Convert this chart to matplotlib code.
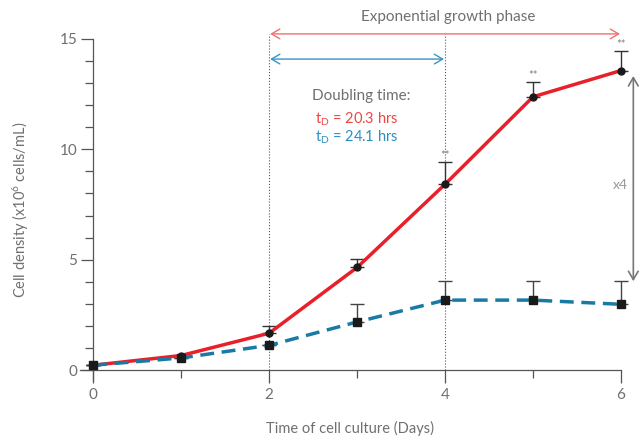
import matplotlib
matplotlib.use('Agg')
import matplotlib.pyplot as plt
from matplotlib.ticker import MultipleLocator, FixedLocator

plt.rcParams['font.family'] = ['Lato', 'DejaVu Sans']
plt.rcParams['mathtext.default'] = 'regular'

# data
days = [0, 1, 2, 3, 4, 5, 6]
red_mean = [0.22, 0.66, 1.67, 4.65, 8.42, 12.38, 13.57]
red_err = [0, 0, 0.32, 0.37, 1.0, 0.68, 0.9]
blue_mean = [0.22, 0.55, 1.12, 2.18, 3.17, 3.17, 2.98]
blue_err = [0, 0, 0, 0.83, 0.88, 0.88, 1.07]
sig_days = [4, 5, 6]

red = '#e8202a'
blue = '#1a7aa6'
grey = '#707070'

fig = plt.figure(figsize=(6.44, 4.41), dpi=100)
ax = fig.add_axes([0.1242, 0.1383, 0.8401, 0.7733])

# error bars (upper only)
for mean, err, c in [(red_mean, red_err, '#333333'), (blue_mean, blue_err, '#444444')]:
    eb = ax.errorbar(days, mean, yerr=[[0]*7, err], fmt='none', ecolor=c,
                     elinewidth=1, capsize=5, capthick=1, zorder=2)
    for a in list(eb.lines[1]) + list(eb.lines[2]):
        a.set_clip_on(False)

ax.plot(days, red_mean, color=red, lw=2.5, marker='o', ms=5, mfc='#1a1a1a',
        mec='#1a1a1a', zorder=3, clip_on=False)
ax.plot(days, blue_mean, color=blue, lw=2.5, ls=(0, (4, 2.2)), marker='s', ms=5.5,
        mfc='#1a1a1a', mec='#1a1a1a', zorder=4, clip_on=False)

for d in sig_days:
    i = days.index(d)
    ax.text(d, red_mean[i] + red_err[i] + 0.05, '**', ha='center', va='bottom',
            fontsize=8, color='#808080', clip_on=False)

# dotted phase boundaries
for d in [2, 4]:
    ax.plot([d, d], [0, 15.23], color='#555555', lw=0.8, ls=':', clip_on=False, zorder=1)

ax.annotate('', xy=(6.02, 15.23), xytext=(1.98, 15.23), annotation_clip=False,
            arrowprops=dict(arrowstyle='<->,head_length=0.6,head_width=0.35',
                            color='#f07070', lw=1))
ax.annotate('', xy=(4.02, 14.09), xytext=(1.98, 14.09), annotation_clip=False,
            arrowprops=dict(arrowstyle='<->,head_length=0.6,head_width=0.35',
                            color='#3a95c4', lw=1))
ax.annotate('', xy=(6.14, 13.45), xytext=(6.14, 3.9), annotation_clip=False,
            arrowprops=dict(arrowstyle='<->,head_length=0.6,head_width=0.35',
                            color='#777777', lw=1.2))

ax.text(4.03, 16.0, 'Exponential growth phase', ha='center', va='center',
        fontsize=11, color=grey, clip_on=False)
ax.text(3.05, 12.4, 'Doubling time:', ha='center', va='center', fontsize=11, color=grey)
ax.text(3.0, 11.35, 't$_D$ = 20.3 hrs', ha='center', va='center', fontsize=10.5, color='#f04545')
ax.text(3.0, 10.55, 't$_D$ = 24.1 hrs', ha='center', va='center', fontsize=10.5, color='#2b8fc0')
ax.text(5.99, 8.4, 'x4', ha='center', va='center', fontsize=10, color='#999999')

ax.set_xlim(-0.15, 6)
ax.set_ylim(-0.45, 15)
ax.spines['bottom'].set_position(('data', 0))
ax.spines['left'].set_position(('data', 0))
ax.spines['top'].set_visible(False)
ax.spines['right'].set_visible(False)
for s in ['bottom', 'left']:
    ax.spines[s].set_color('#555555')
    ax.spines[s].set_linewidth(0.9)

ax.xaxis.set_major_locator(FixedLocator([0, 2, 4, 6]))
ax.xaxis.set_minor_locator(FixedLocator([1, 3, 5]))
ax.yaxis.set_major_locator(MultipleLocator(5))
ax.yaxis.set_minor_locator(MultipleLocator(1))
ax.tick_params(which='major', length=9, width=0.9, color='#555555', labelcolor=grey,
               labelsize=11)
ax.tick_params(axis='y', which='major', pad=2.5)
ax.tick_params(axis='x', which='major', pad=4)
ax.tick_params(which='minor', length=6, width=0.9, color='#555555')

ax.set_xlabel('Time of cell culture (Days)', fontsize=10.5, color=grey)
ax.set_ylabel('Cell density (x10$^6$ cells/mL)', fontsize=10.5, color=grey)
ax.xaxis.set_label_coords(0.5, -0.12)
ax.yaxis.set_label_coords(-0.09, 0.5)

fig.savefig('out.png', dpi=100)
